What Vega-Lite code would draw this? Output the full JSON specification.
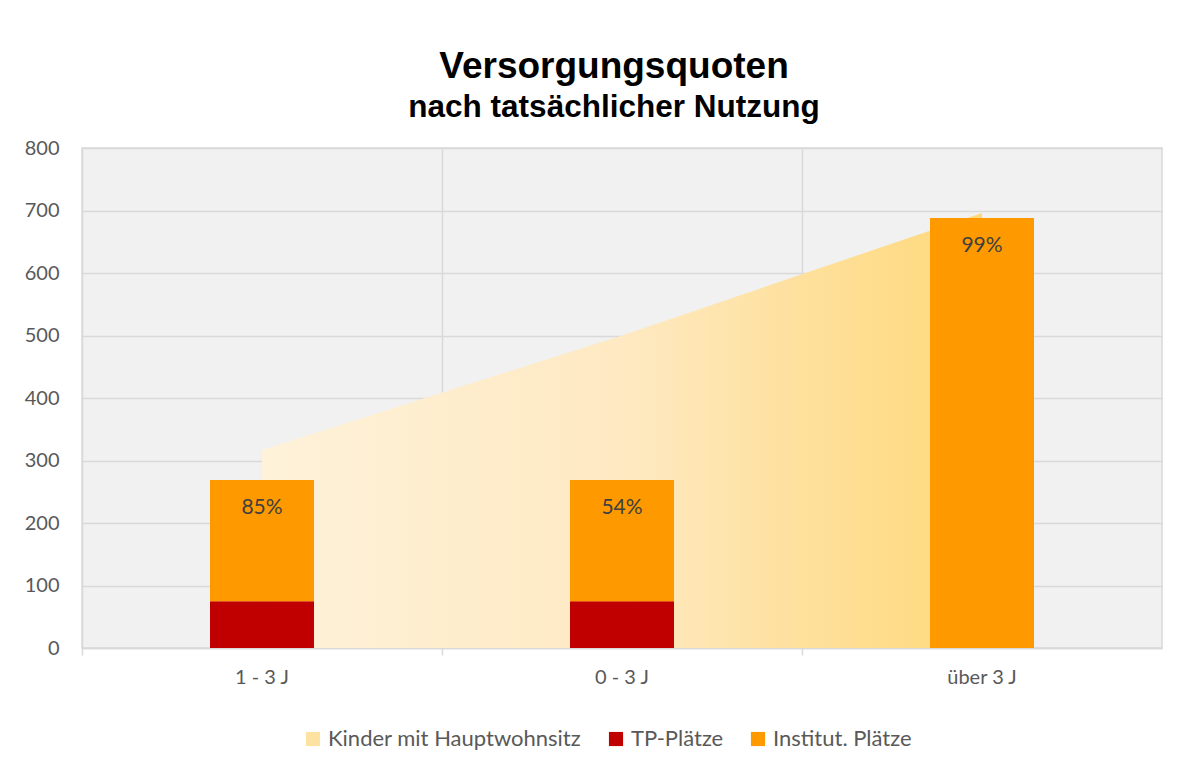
{
  "$schema": "https://vega.github.io/schema/vega-lite/v6.json",
  "autosize": {"type": "none"},
  "width": 1080,
  "height": 500,
  "padding": {"left": 82, "top": 148, "right": 17, "bottom": 114},
  "background": "white",
  "title": {
    "text": "Versorgungsquoten",
    "subtitle": "nach tatsächlicher Nutzung",
    "anchor": "middle",
    "dx": -8,
    "font": "Liberation Sans",
    "fontSize": 37,
    "fontWeight": "bold",
    "color": "#000000",
    "subtitleFont": "Liberation Sans",
    "subtitleFontSize": 31.5,
    "subtitleFontWeight": "bold",
    "subtitleColor": "#000000",
    "subtitlePadding": 6,
    "offset": 14
  },
  "datasets": {
    "kinder": [
      {"Alter": "1 - 3 J", "Kinder": 317},
      {"Alter": "0 - 3 J", "Kinder": 500},
      {"Alter": "über 3 J", "Kinder": 696}
    ],
    "plaetze": [
      {"Alter": "1 - 3 J", "Art": "TP-Plätze", "Plaetze": 75},
      {"Alter": "1 - 3 J", "Art": "Institut. Plätze", "Plaetze": 194},
      {"Alter": "0 - 3 J", "Art": "TP-Plätze", "Plaetze": 75},
      {"Alter": "0 - 3 J", "Art": "Institut. Plätze", "Plaetze": 194},
      {"Alter": "über 3 J", "Art": "TP-Plätze", "Plaetze": 0},
      {"Alter": "über 3 J", "Art": "Institut. Plätze", "Plaetze": 688}
    ],
    "quoten": [
      {"Alter": "1 - 3 J", "Summe": 269, "Quote": "85%"},
      {"Alter": "0 - 3 J", "Summe": 269, "Quote": "54%"},
      {"Alter": "über 3 J", "Summe": 688, "Quote": "99%"}
    ]
  },
  "config": {
    "view": {"fill": "#f1f1f1", "stroke": "#d9d9d9", "strokeWidth": 1.5},
    "axis": {
      "labelFont": "Lato",
      "labelColor": "#595959",
      "labelFontSize": 20,
      "gridColor": "#d9d9d9",
      "gridWidth": 1.5,
      "title": null
    },
    "legend": {
      "labelFont": "Lato",
      "labelFontSize": 22,
      "labelColor": "#595959",
      "labelLimit": 400
    }
  },
  "layer": [
    {
      "data": {"name": "kinder"},
      "mark": {
        "type": "area",
        "fill": {
          "gradient": "linear",
          "x1": 0, "y1": 0, "x2": 1, "y2": 0,
          "stops": [
            {"offset": 0, "color": "#fef2da"},
            {"offset": 0.5, "color": "#fee9c2"},
            {"offset": 0.85, "color": "#fedd8e"},
            {"offset": 1, "color": "#fed87a"}
          ]
        }
      },
      "encoding": {
        "x": {
          "field": "Alter", "type": "nominal",
          "sort": ["1 - 3 J", "0 - 3 J", "über 3 J"],
          "scale": {"paddingInner": 0, "paddingOuter": 0}
        },
        "y": {"field": "Kinder", "type": "quantitative"}
      }
    },
    {
      "data": {"name": "plaetze"},
      "mark": {"type": "bar", "size": 104},
      "encoding": {
        "x": {
          "field": "Alter", "type": "nominal",
          "sort": ["1 - 3 J", "0 - 3 J", "über 3 J"],
          "scale": {"paddingInner": 0, "paddingOuter": 0},
          "axis": {
            "labelAngle": 0,
            "labelAlign": "center",
            "bandPosition": 0,
            "grid": true,
            "domainColor": "#d9d9d9",
            "domainWidth": 1.5,
            "tickColor": "#d9d9d9",
            "tickWidth": 1.5,
            "tickSize": 7,
            "labelPadding": 22
          }
        },
        "y": {
          "field": "Plaetze", "type": "quantitative",
          "stack": "zero",
          "scale": {"domain": [0, 800]},
          "axis": {
            "values": [0, 100, 200, 300, 400, 500, 600, 700, 800],
            "domain": false,
            "ticks": false,
            "labelPadding": 23
          }
        },
        "color": {
          "field": "Art", "type": "nominal",
          "scale": {
            "domain": ["Kinder mit Hauptwohnsitz", "TP-Plätze", "Institut. Plätze"],
            "range": ["#fde2a2", "#c00000", "#ff9900"]
          },
          "legend": {
            "title": null,
            "orient": "none",
            "legendX": 220,
            "legendY": 580,
            "direction": "horizontal",
            "symbolType": "square",
            "symbolSize": 200,
            "symbolStrokeWidth": 0,
            "columnPadding": 23,
            "labelOffset": 4
          }
        },
        "order": {"field": "Art", "sort": "descending"}
      }
    },
    {
      "data": {"name": "quoten"},
      "mark": {
        "type": "text",
        "baseline": "top",
        "dy": 17,
        "font": "Lato",
        "fontSize": 21,
        "color": "#404040"
      },
      "encoding": {
        "x": {
          "field": "Alter", "type": "nominal",
          "sort": ["1 - 3 J", "0 - 3 J", "über 3 J"]
        },
        "y": {"field": "Summe", "type": "quantitative"},
        "text": {"field": "Quote"}
      }
    }
  ]
}
